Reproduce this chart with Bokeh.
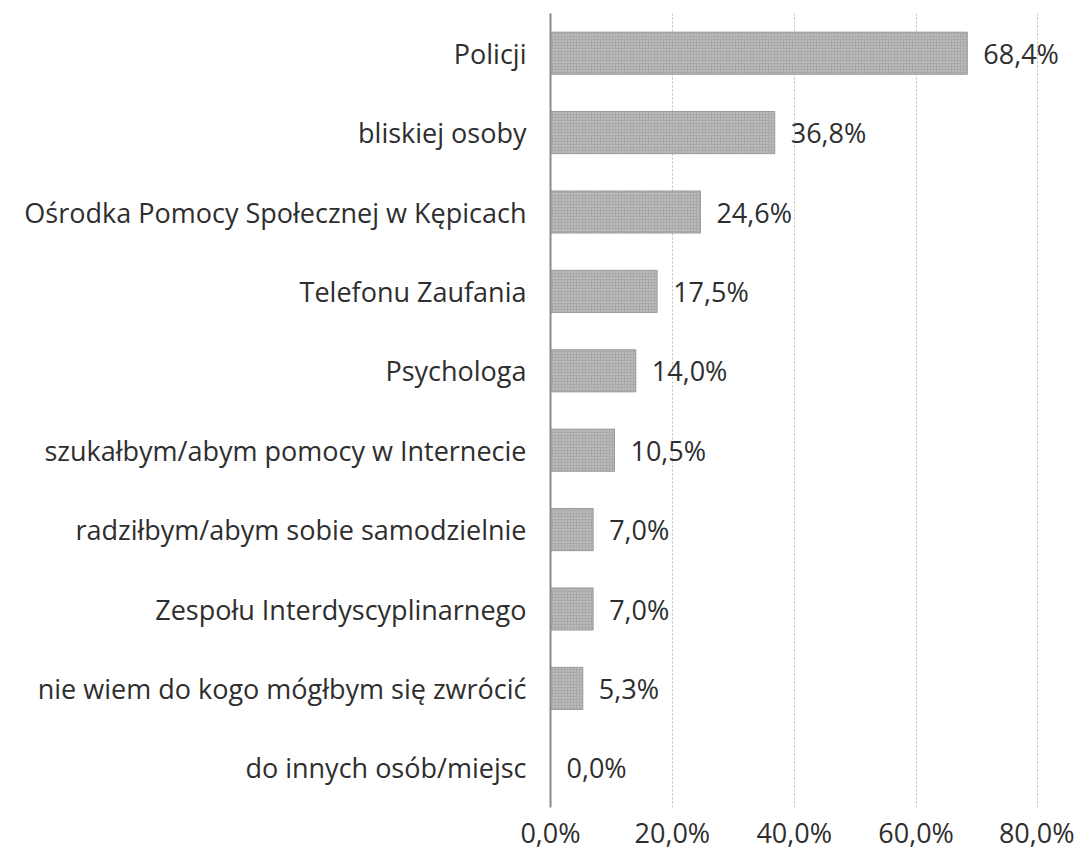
from bokeh.plotting import figure
from bokeh.models import ColumnDataSource, FixedTicker, Range1d
from bokeh.core.properties import value
from bokeh.embed import file_html
from bokeh.resources import INLINE

categories = ["Policji", "bliskiej osoby", "Ośrodka Pomocy Społecznej w Kępicach",
              "Telefonu Zaufania", "Psychologa", "szukałbym/abym pomocy w Internecie",
              "radziłbym/abym sobie samodzielnie", "Zespołu Interdyscyplinarnego",
              "nie wiem do kogo mógłbym się zwrócić", "do innych osób/miejsc"]
values = [68.4, 36.8, 24.6, 17.5, 14.0, 10.5, 7.0, 7.0, 5.3, 0.0]
tick_values = [0, 20, 40, 60, 80]
tick_labels = ["0,0%", "20,0%", "40,0%", "60,0%", "80,0%"]

labels = [("%.1f" % v).replace(".", ",") + "%" for v in values]
src = ColumnDataSource(dict(cat=categories, val=values, lab=labels))

FONT = "Open Sans"
TXT = "#2e2e2e"
FS = "27px"

p = figure(y_range=list(reversed(categories)), x_range=Range1d(0, 86),
           width=1074, height=853, output_backend="svg", toolbar_location=None,
           min_border_left=550, min_border_top=13, min_border_bottom=0, min_border_right=0)
p.outline_line_color = None
p.background_fill_color = "white"

p.hbar(y="cat", right="val", left=0, height=0.53, source=src,
       fill_color="#a9a9a9", line_color="#9a9a9a", line_width=1,
       hatch_pattern="dot", hatch_color="#d6d6d6", hatch_scale=3, hatch_weight=1)

p.text(x="val", y="cat", text="lab", source=src, x_offset=16,
       text_baseline="middle", text_align="left", text_font=value(FONT),
       text_font_size=FS, text_color=TXT)

p.xgrid.ticker = FixedTicker(ticks=tick_values)
p.xgrid.grid_line_color = "#bdbdbd"
p.xgrid.grid_line_dash = "2 2"
p.xgrid.grid_line_width = 1
p.ygrid.grid_line_color = None

p.xaxis.ticker = FixedTicker(ticks=tick_values)
p.xaxis.major_label_overrides = {t: l for t, l in zip(tick_values, tick_labels)}
p.xaxis.axis_line_color = None
p.xaxis.major_tick_line_color = None
p.xaxis.minor_tick_line_color = None
p.xaxis.major_tick_out = 0
p.xaxis.major_tick_in = 0
p.xaxis.minor_tick_out = 0
p.xaxis.major_label_standoff = 6
p.xaxis.major_label_text_font = FONT
p.xaxis.major_label_text_font_size = FS
p.xaxis.major_label_text_color = TXT

p.yaxis.axis_line_color = "#8a8a8a"
p.yaxis.axis_line_width = 2
p.yaxis.major_tick_line_color = None
p.yaxis.minor_tick_line_color = None
p.yaxis.major_label_standoff = 18
p.yaxis.major_label_text_font = FONT
p.yaxis.major_label_text_font_size = FS
p.yaxis.major_label_text_color = TXT

open("out.html", "w").write(file_html(p, INLINE))
